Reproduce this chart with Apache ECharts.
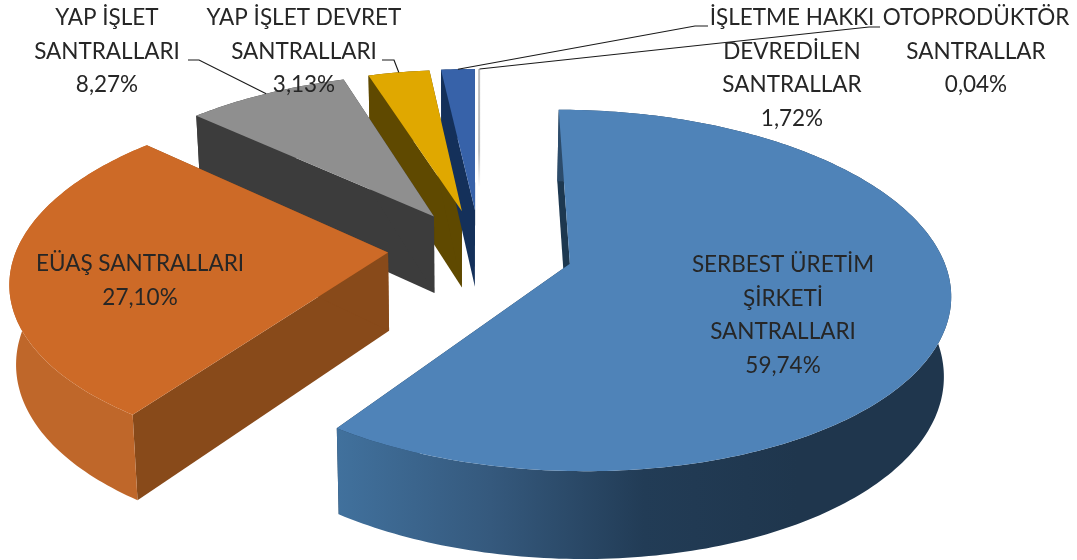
<!DOCTYPE html>
<html>
<head>
<meta charset="utf-8">
<style>html,body{margin:0;padding:0;background:#fff}</style>
<script src="https://cdn.jsdelivr.net/npm/echarts@6/dist/echarts.min.js"></script>
</head>
<body>
<div id="main" style="width:1077px;height:560px"></div>
<script>
var categories = ['SERBEST ÜRETİM\nŞİRKETİ\nSANTRALLARI', 'EÜAŞ SANTRALLARI', 'YAP İŞLET\nSANTRALLARI',
  'YAP İŞLET DEVRET\nSANTRALLARI', 'İŞLETME HAKKI\nDEVREDİLEN\nSANTRALLAR', 'OTOPRODÜKTÖR\nSANTRALLAR'];
var values = [59.74, 27.10, 8.27, 3.13, 1.72, 0.04];

// top colour, cut face colour, outer wall gradient
var topColors = ['#4f83b8', '#cd6a27', '#8f8f8f', '#e0a800', '#3762a9', '#bdbdbd'];
var sideColors = ['#1d3850', '#884a1a', '#3c3c3c', '#5f4900', '#14305a', '#dddddd'];
var wallColors = [
  ['#41719d', '#35597d', '#223c56', '#1f364d', '#1f364d'],
  ['#bf672a', '#bf672a'], ['#3c3c3c', '#3c3c3c'], ['#5f4900', '#5f4900'],
  ['#14305a', '#14305a'], ['#dddddd', '#dddddd']
];

// label anchors: centre x, centre of first line; leader: elbow points from the label to the slice
var labelPos = [[783, 265], [140, 264], [107, 18], [304, 18], [792, 18], [976, 18]];
var leaderPts = [null, null, [[188, 60], [199, 60]], [[382, 60], [394, 60]], [[708, 26], [695, 26]], [[880, 27], [869, 27]]];
// small screen nudges per slice, the source chart is not a perfect projection
var sliceShift = [[3, -3], [-2, -6], [1, -3], [0, -3], [0, -3], [0, -3]];

var cx = 480, cy = 254, scaleX = 371, scaleY = 173, persp = 0.146;
var explode = 0.243, depth = 78, vanishX = 460, bottomScale = 0.985;

function project(u, v, bottom, shift) {
  var w = 1 - persp * v;
  var x = cx + scaleX * u / w;
  var y = cy + scaleY * v / w;
  if (bottom) {
    x = vanishX + (x - vanishX) * bottomScale;
    y += depth / Math.pow(w, 0.7);
  }
  return [x + shift[0], y + shift[1]];
}

function sliceGeom(idx) {
  var start = 0;
  for (var i = 0; i < idx; i++) start += values[i] * 3.6;
  var end = start + values[idx] * 3.6;
  var mid = (start + end) / 2 * Math.PI / 180;
  var ou = explode * Math.sin(mid), ov = -explode * Math.cos(mid);
  var arc = [];
  var n = Math.max(2, Math.ceil(end - start));
  for (var j = 0; j <= n; j++) {
    var a = (start + (end - start) * j / n) * Math.PI / 180;
    arc.push([ou + Math.sin(a), ov - Math.cos(a)]);
  }
  return { ou: ou, ov: ov, arc: arc, midU: ou + Math.sin(mid), midV: ov - Math.cos(mid) };
}

function poly(points, fill, z2) {
  return { type: 'polygon', shape: { points: points }, style: { fill: fill }, z2: z2 };
}

function renderSlice(params, api) {
  var idx = params.dataIndex;
  var s = sliceShift[idx];
  var g = sliceGeom(idx);
  var layer = Math.round(g.ov * 100) + 100;
  var children = [];
  var apexT = project(g.ou, g.ov, false, s), apexB = project(g.ou, g.ov, true, s);
  var topArc = g.arc.map(function (p) { return project(p[0], p[1], false, s); });
  var botArc = g.arc.map(function (p) { return project(p[0], p[1], true, s); });
  var last = g.arc.length - 1;

  // the sliver of 0.04% is only a fading line
  if (idx === values.length - 1) {
    children.push({
      type: 'line',
      shape: { x1: topArc[0][0], y1: topArc[0][1], x2: topArc[0][0], y2: apexT[1] - 24 },
      style: {
        lineWidth: 2,
        stroke: { type: 'linear', x: 0, y: 0, x2: 0, y2: 1, colorStops: [
          { offset: 0, color: topColors[idx] }, { offset: 0.7, color: topColors[idx] }, { offset: 1, color: '#ffffff' }] }
      },
      z2: layer
    });
  } else {
    // cut faces, top face comes after so it hides the ones turned away
    children.push(poly([apexT, topArc[0], botArc[0], apexB], sideColors[idx], layer));
    children.push(poly([apexT, topArc[last], botArc[last], apexB], sideColors[idx], layer));
    var stops = wallColors[idx].map(function (c, k, arr) { return { offset: k / (arr.length - 1), color: c }; });
    children.push(poly(topArc.concat(botArc.slice().reverse()),
      { type: 'linear', x: 0, y: 0, x2: 1, y2: 0, colorStops: stops }, layer + 1));
    children.push(poly([apexT].concat(topArc), topColors[idx], layer + 2));
  }

  // leader line
  if (leaderPts[idx]) {
    var target = project(g.midU, g.midV, false, s);
    children.push({
      type: 'polyline',
      shape: { points: leaderPts[idx].concat([target]) },
      style: { stroke: '#1a1a1a', lineWidth: 1.2, fill: null },
      z2: 400
    });
  }

  // label
  var txt = categories[idx] + '\n' + api.value(0).toFixed(2).replace('.', ',') + '%';
  children.push({
    type: 'text',
    style: {
      text: txt, x: labelPos[idx][0], y: labelPos[idx][1] - 16.75,
      align: 'center', verticalAlign: 'top',
      fontFamily: 'Lato', fontSize: 22.5, lineHeight: 33.5, fill: '#262626'
    },
    z2: 500
  });
  return { type: 'group', children: children };
}

var myChart = echarts.init(document.getElementById('main'), null, { renderer: 'canvas' });
myChart.setOption({
  animation: false,
  backgroundColor: '#ffffff',
  series: [{
    type: 'custom',
    coordinateSystem: 'none',
    renderItem: renderSlice,
    data: values.map(function (v) { return [v]; })
  }]
});
</script>
</body>
</html>
